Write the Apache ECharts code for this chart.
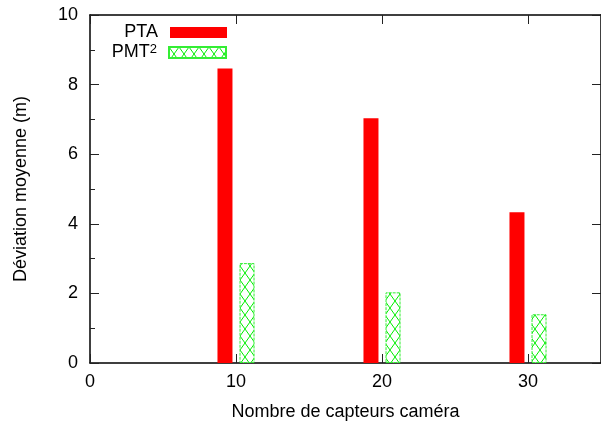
<!DOCTYPE html>
<html>
<head>
<meta charset="utf-8">
<script src="https://cdn.jsdelivr.net/npm/echarts@6/dist/echarts.min.js"></script>
<style>
html, body { margin: 0; padding: 0; background: #fff; }
#main { width: 601px; height: 428px; }
</style>
</head>
<body>
<div id="main"></div>
<script>
var cameras = [10, 20, 30];
var ptaValues = [8.46, 7.03, 4.33];
var pmtValues = [2.87, 2.03, 1.40];

function hatchPattern() {
	var c = document.createElement('canvas');
	c.width = 10;
	c.height = 14;
	var ctx = c.getContext('2d');
	ctx.fillStyle = '#fff';
	ctx.fillRect(0, 0, 10, 14);
	ctx.strokeStyle = '#00ee00';
	ctx.lineWidth = 1;
	ctx.beginPath();
	ctx.moveTo(0, 0); ctx.lineTo(10, 14);
	ctx.moveTo(10, 0); ctx.lineTo(0, 14);
	ctx.stroke();
	return c;
}

var font = 'Liberation Sans, Arial, sans-serif';
var myChart = echarts.init(document.getElementById('main'));

function pairs(vals) {
	return cameras.map(function (x, i) { return [x, vals[i]]; });
}

var axisLine = { show: true, onZero: false, lineStyle: { color: '#000', width: 1.5 } };
var axisTick = { show: true, inside: true, length: 9, lineStyle: { color: '#222', width: 1 } };

var legendBase = {
	orient: 'vertical',
	align: 'right',
	right: 374,
	padding: 0,
	icon: 'rect',
	itemWidth: 57,
	itemHeight: 11
};

var option = {
	animation: false,
	textStyle: { fontFamily: font },
	grid: { left: 90, top: 15, right: -6, bottom: 65 },
	legend: [Object.assign({}, legendBase, {
		data: ['PTA'],
		top: 23,
		textStyle: { fontSize: 18, lineHeight: 19, color: '#000', fontFamily: font, padding: [0, 7, 0, 0] }
	}), Object.assign({}, legendBase, {
		data: ['PMT2'],
		top: 43,
		formatter: function () { return 'PMT{sup|2}'; },
		textStyle: {
			fontSize: 18, lineHeight: 19, color: '#000', fontFamily: font, padding: [0, 7, 0, 0],
			rich: { sup: { fontSize: 13, lineHeight: 19, verticalAlign: 'top', padding: [0, 0, 8, 0], fontFamily: font, color: '#000' } }
		}
	})],
	xAxis: [{
		type: 'value',
		min: 0,
		max: 35,
		interval: 10,
		name: 'Nombre de capteurs caméra',
		nameLocation: 'middle',
		nameGap: 40,
		nameTextStyle: { fontSize: 18, color: '#000', fontFamily: font },
		splitLine: { show: false },
		axisLine: axisLine,
		axisTick: axisTick,
		axisLabel: { fontSize: 18, color: '#000', margin: 10, showMaxLabel: false }
	}, {
		type: 'value',
		position: 'top',
		min: 0,
		max: 35,
		interval: 10,
		splitLine: { show: false },
		axisLine: axisLine,
		axisTick: axisTick,
		axisLabel: { show: false }
	}],
	yAxis: [{
		type: 'value',
		min: 0,
		max: 10,
		interval: 2,
		name: 'Déviation moyenne (m)',
		nameLocation: 'middle',
		nameGap: 60,
		nameTextStyle: { fontSize: 18, color: '#000', fontFamily: font },
		splitLine: { show: false },
		axisLine: axisLine,
		axisTick: axisTick,
		minorTick: { show: true, splitNumber: 2, length: 5, lineStyle: { color: '#222', width: 1 } },
		axisLabel: { fontSize: 18, color: '#000', margin: 12 }
	}, {
		type: 'value',
		position: 'right',
		min: 0,
		max: 10,
		interval: 2,
		splitLine: { show: false },
		axisLine: axisLine,
		axisTick: axisTick,
		axisLabel: { show: false }
	}],
	series: [{
		name: 'PTA',
		type: 'bar',
		barWidth: 15,
		barGap: '47%',
		itemStyle: { color: '#ff0000' },
		data: pairs(ptaValues)
	}, {
		name: 'PMT2',
		type: 'bar',
		barWidth: 15,
		barGap: '47%',
		itemStyle: {
			color: { image: hatchPattern(), repeat: 'repeat' },
			borderColor: '#33ee33',
			borderWidth: 1,
			borderType: [3, 1]
		},
		data: pairs(pmtValues)
	}]
};
myChart.setOption(option);
</script>
</body>
</html>
